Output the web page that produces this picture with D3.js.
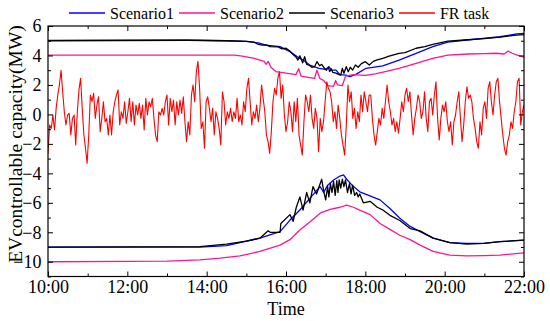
<!DOCTYPE html>
<html>
<head>
<meta charset="utf-8">
<script src="https://cdn.jsdelivr.net/npm/d3@7"></script>
<style>
body { margin: 0; background: #fff; }
</style>
</head>
<body>
<svg id="chart" width="550" height="321"></svg>
<script>
// series names / colours (legend order)
const seriesNames = ["Scenario1", "Scenario2", "Scenario3", "FR task"];
const seriesColors = ["#0000ff", "#ff1493", "#000000", "#ff0000"];

// tick values
const xTickHours = [10, 12, 14, 16, 18, 20, 22];
const xMinorHours = [11, 13, 15, 17, 19, 21];
const yTickValues = [-10, -8, -6, -4, -2, 0, 2, 4, 6];
const yMinorValues = [-11, -9, -7, -5, -3, -1, 1, 3, 5];

// Scenario1 (blue) [hour, MW]
const s1Upper = [[10, 5.02], [13.5, 5.05], [14.5, 5.0], [15.0, 4.95], [15.3, 4.85], [15.5, 4.7], [15.85, 4.6], [16.0, 4.4],
  [16.1, 4.26], [16.35, 3.8], [16.43, 3.69], [16.6, 3.35], [16.83, 3.13], [17.0, 3.05], [17.08, 3.24], [17.15, 3.0],
  [17.26, 3.01], [17.36, 2.7], [17.51, 2.67], [17.61, 2.56], [17.76, 2.72], [18.02, 3.13], [18.44, 3.3], [18.85, 3.69],
  [19.28, 4.14], [19.7, 4.6], [20.08, 4.9], [20.56, 5.05], [20.97, 5.16], [21.39, 5.27], [21.82, 5.46], [22, 5.5]];
const s1Lower = [[10, -9.0], [13.83, -9.0], [14.5, -8.9], [15.34, -8.4], [15.85, -7.95], [16.1, -7.17], [16.35, -6.49],
  [16.6, -5.7], [16.86, -4.9], [16.95, -5.3], [17.05, -4.8], [17.2, -4.45], [17.36, -4.18], [17.45, -4.11], [17.53, -4.4],
  [17.7, -4.9], [17.86, -5.25], [18.37, -5.8], [18.62, -6.38], [18.87, -7.05], [19.13, -7.6], [19.38, -7.95], [19.71, -8.4],
  [20.13, -8.7], [20.56, -8.75], [20.97, -8.75], [21.39, -8.64], [22, -8.53]];

// Scenario2 (pink)
const s2Upper = [[10, 4.02], [14.7, 4.02], [14.9, 3.95], [15.2, 3.8], [15.45, 3.6], [15.5, 3.4], [15.55, 3.6], [15.62, 3.2],
  [15.75, 2.9], [16.0, 2.8], [16.25, 2.7], [16.32, 3.1], [16.38, 2.6], [16.6, 2.5], [16.72, 2.45], [16.78, 3.0], [16.85, 2.45],
  [16.95, 2.3], [17.05, 1.95], [17.2, 1.9], [17.25, 2.3], [17.3, 2.0], [17.42, 1.95], [17.5, 2.6], [17.7, 2.7], [18.0, 2.65],
  [18.25, 2.75], [18.5, 2.9], [18.85, 3.13], [19.28, 3.47], [19.7, 3.8], [20.08, 4.03], [20.6, 4.1], [21.0, 4.13],
  [21.3, 4.15], [21.5, 4.1], [21.6, 4.3], [21.7, 4.15], [21.85, 4.0], [22, 3.88]];
const s2Lower = [[10, -10.0], [12, -9.98], [13.0, -9.95], [13.83, -9.87], [14.34, -9.75], [14.84, -9.6], [15.34, -9.3],
  [15.85, -8.87], [16.1, -8.5], [16.35, -7.85], [16.6, -7.3], [16.86, -6.7], [17.11, -6.45], [17.36, -6.3], [17.53, -6.15],
  [17.7, -6.3], [17.86, -6.5], [18.12, -6.8], [18.37, -7.4], [18.62, -7.8], [18.87, -8.2], [19.13, -8.5], [19.38, -8.87],
  [19.71, -9.3], [20.13, -9.55], [20.56, -9.6], [21.0, -9.58], [21.39, -9.55], [22, -9.4]];

// Scenario3 (black)
const s3Upper = [[10, 5.0], [13.5, 5.02], [14.5, 5.0], [15.0, 4.95], [15.2, 4.9], [15.3, 4.75], [15.4, 4.7], [15.5, 4.72],
  [15.6, 4.6], [15.8, 4.58], [15.9, 4.45], [16.0, 4.49], [16.1, 4.3], [16.15, 4.14], [16.25, 3.9], [16.3, 3.69], [16.35, 3.98],
  [16.42, 3.5], [16.47, 3.92], [16.52, 3.4], [16.58, 3.35], [16.65, 3.2], [16.72, 3.24], [16.78, 3.58], [16.85, 3.3],
  [16.9, 3.4], [16.97, 3.13], [17.02, 3.0], [17.07, 3.2], [17.1, 2.9], [17.14, 3.1], [17.18, 2.85], [17.26, 2.8], [17.32, 2.72],
  [17.38, 2.67], [17.42, 3.13], [17.46, 2.79], [17.52, 3.24], [17.57, 2.9], [17.62, 3.2], [17.68, 3.01], [17.75, 3.35],
  [17.82, 3.2], [17.9, 3.45], [18.0, 3.58], [18.1, 3.35], [18.2, 3.6], [18.3, 3.7], [18.44, 3.81], [18.6, 3.95], [18.85, 4.14],
  [19.0, 4.2], [19.28, 4.49], [19.5, 4.6], [19.7, 4.76], [20.08, 4.98], [20.5, 5.05], [21.0, 5.15], [21.4, 5.25],
  [21.8, 5.38], [22, 5.42]];
const s3Lower = [[10, -9.0], [13.83, -8.97], [14.5, -8.8], [15.0, -8.6], [15.34, -8.4], [15.55, -7.9], [15.6, -8.0],
  [15.85, -8.0], [15.87, -7.4], [16.1, -6.8], [16.18, -7.25], [16.26, -6.3], [16.35, -5.6], [16.43, -6.5], [16.52, -5.3],
  [16.6, -6.0], [16.68, -4.9], [16.77, -5.4], [16.9, -4.4], [16.95, -5.2], [17.0, -5.8], [17.05, -4.9], [17.08, -5.6],
  [17.12, -4.7], [17.16, -5.3], [17.2, -4.55], [17.24, -5.5], [17.28, -4.5], [17.31, -5.3], [17.34, -4.45], [17.38, -5.0],
  [17.42, -4.4], [17.46, -4.9], [17.5, -4.45], [17.55, -5.3], [17.6, -4.7], [17.64, -5.4], [17.68, -4.8], [17.73, -5.5],
  [17.78, -5.3], [17.82, -5.6], [17.86, -5.4], [17.95, -6.0], [18.12, -5.9], [18.3, -6.3], [18.45, -6.5], [18.62, -6.85],
  [18.87, -7.2], [19.13, -7.75], [19.38, -7.9], [19.71, -8.4], [20.13, -8.7], [20.56, -8.8], [21.0, -8.75], [21.39, -8.64],
  [22, -8.53]];

// FR task signal, evenly spaced samples from 10:00 to 22:00
const frTask = [
  -2.65, -0.72, -0.95, -0.04, -1.06, 0.41, 1.32, 2.0, 3.0, 1.54, 0.18, -0.72, -0.04, 0.07, -1.40, -0.27, -0.04, -2.08, 0.18,
  1.66, 2.45, 0.41, -1.40, -2.3, -3.32, -1.40, 1.32, 0.86, 1.43, -0.27, 0.64, 1.2, -1.17, -0.27, 0.86, -0.5, -0.27, -1.40,
  -0.04, -1.40, 0.18, 0.86, 1.32, 1.66, -0.72, 0.18, -0.27, 0.86, -0.61, 0.18, 1.09,
  -0.5, 0.86, -0.72, 0.64, -0.04, 0.75, -0.27, 0.64, -1.06, 1.09, -0.04, 0.86, 0.52, 1.09, -0.27, -1.40, -1.85, 0.18, -0.04,
  0.41, -0.04, 0.86, 1.32, -0.72, 1.09, 0.18, 0.98, -0.72, 0.86, -0.04, 0.98, 0.07, 1.2, -0.5, -1.85, -0.5, -1.40, 1.32, 2.0,
  0.86, 2.9, 3.6, 1.77, -0.95, -0.5, -2.3, 0.86, 1.2, 0.41,
  -0.5, 0.41, -1.40, 0.18, -0.27, -0.95, -2.08, 1.54, 0.86, -0.72, 0.18, -0.27, 0.41, -0.5, 0.18, -0.27, 1.09, -0.5, -0.04,
  -0.72, 0.86, 0.18, 1.77, 2.45, 0.86, -0.72, 0.18, -0.27, 0.64, -0.5, 0.41, 2.0, 1.09, 0.18, -1.40, -1.85, -2.65, -1.17, 0.86,
  1.77, 1.32, 2.45, 2.9, 1.09, 2.0, -0.04, -1.17, -0.5, 0.86,
  0.18, -1.17, 0.86, -0.5, 1.09, -1.40, -2.08, -2.76, -0.5, 1.32, 0.86, 0.18, 1.32, -0.27, -0.95, 0.41, -0.27, -2.53, -0.27,
  -1.17, -0.5, 0.86, 2.22, 1.77, 1.54, 0.86, -0.5, 0.18, -0.95, 0.64, -0.27, -1.40, -2.08, -2.76, -0.72, 2.0, 0.86, 1.54, -0.27,
  0.41, -0.95, 0.18, -0.5, 1.32, 0.18, 1.54, 0.86, 0.18, 1.32,
  1.32, -0.27, -1.40, -2.08, -1.17, -0.27, -0.72, 0.41, -0.27, 0.86, 2.0, 0.86, 0.18, -0.72, -0.27, -1.17, -0.5, -1.28, -0.27,
  0.86, 0.18, 1.32, 1.77, 0.86, 1.54, -0.04, -1.40, -0.27, 0.41, 1.32, 0.86, -0.27, 0.18, 1.54, -0.27, -1.17, 0.86, 1.09,
  -0.04, 1.32, 2.22, -0.27, -1.74, -0.27, 0.64, 0.18, 0.86, -0.5,
  -1.17, -0.5, -2.08, -0.5, -0.04, 0.86, 1.54, -0.27, -1.85, -0.72, 0.86, 1.88, 1.09, 1.32, 0.86, -0.27, -0.95, -1.85, -2.3,
  -0.5, -1.40, 0.41, 0.86, -0.27, 1.77, 2.22, 0.86, -0.04, 1.32, 2.22, 2.45, 0.86, -0.27, -1.40, -2.3, -2.76, -1.85, -1.40,
  -0.5, -0.95, 0.18, 0.86, 2.22, 2.45, -0.72, 0.18, 0.64];

const serif = "'Liberation Serif', 'DejaVu Serif', serif";

const svg = d3.select("#chart")
  .style("font-family", serif);
const plotL = 48, plotR = 524, plotT = 26, plotB = 276.5;

const x = d3.scaleLinear().domain([10, 22]).range([plotL, plotR]);
const y = d3.scaleLinear().domain([-11, 6]).range([plotB, plotT]);

// clip for data lines
svg.append("clipPath").attr("id", "clip")
  .append("rect")
  .attr("x", plotL).attr("y", plotT)
  .attr("width", plotR - plotL).attr("height", plotB - plotT);

const line = d3.line()
  .x(d => x(d[0]))
  .y(d => y(d[1]));

const frPoints = frTask.map((v, i) => [10 + i * 12 / (frTask.length - 1), v]);

const lineData = [
  [s1Upper, 0], [s1Lower, 0],
  [s2Upper, 1], [s2Lower, 1],
  [s3Upper, 2], [s3Lower, 2],
  [frPoints, 3]
];

svg.append("g")
  .attr("clip-path", "url(#clip)")
  .selectAll("path")
  .data(lineData)
  .enter().append("path")
  .attr("d", d => line(d[0]))
  .attr("fill", "none")
  .attr("stroke", d => seriesColors[d[1]])
  .attr("stroke-width", d => d[1] === 3 ? 1.1 : 1.3)
  .attr("stroke-linejoin", "round");

// axes (ticks point inward)
const fmtHour = h => `${h}:00`;

function styleAxis(g) {
  g.attr("font-family", null);
  g.select(".domain").remove();
  g.selectAll("line").attr("stroke", "#000").attr("stroke-width", 1);
  g.selectAll("text")
    .attr("fill", "#000")
    .style("font-family", serif)
    .style("font-size", "18px");
}

svg.append("g")
  .attr("transform", `translate(0,${plotB})`)
  .call(d3.axisBottom(x).tickValues(xTickHours).tickFormat(fmtHour).tickSize(-5).tickPadding(4))
  .call(styleAxis);

svg.append("g")
  .attr("transform", `translate(0,${plotB})`)
  .call(d3.axisBottom(x).tickValues(xMinorHours).tickFormat("").tickSize(-3))
  .call(styleAxis);

svg.append("g")
  .attr("transform", `translate(0,${plotT})`)
  .call(d3.axisTop(x).tickValues(xTickHours).tickFormat("").tickSize(-5))
  .call(styleAxis);

svg.append("g")
  .attr("transform", `translate(0,${plotT})`)
  .call(d3.axisTop(x).tickValues(xMinorHours).tickFormat("").tickSize(-3))
  .call(styleAxis);

svg.append("g")
  .attr("transform", `translate(${plotL},0)`)
  .call(d3.axisLeft(y).tickValues(yTickValues).tickSize(-5).tickPadding(6.5))
  .call(styleAxis);

svg.append("g")
  .attr("transform", `translate(${plotL},0)`)
  .call(d3.axisLeft(y).tickValues(yMinorValues).tickFormat("").tickSize(-3))
  .call(styleAxis);

svg.append("g")
  .attr("transform", `translate(${plotR},0)`)
  .call(d3.axisRight(y).tickValues(yTickValues).tickFormat("").tickSize(-5))
  .call(styleAxis);

svg.append("g")
  .attr("transform", `translate(${plotR},0)`)
  .call(d3.axisRight(y).tickValues(yMinorValues).tickFormat("").tickSize(-3))
  .call(styleAxis);

// frame
svg.append("rect")
  .attr("x", plotL).attr("y", plotT)
  .attr("width", plotR - plotL).attr("height", plotB - plotT)
  .attr("fill", "none")
  .attr("stroke", "#000")
  .attr("stroke-width", 1.2);

// axis titles
svg.append("text")
  .attr("x", (plotL + plotR) / 2)
  .attr("y", 315)
  .attr("text-anchor", "middle")
  .style("font-family", serif)
  .style("font-size", "18px")
  .text("Time");

svg.append("text")
  .attr("transform", "translate(22,144) rotate(-90)")
  .attr("text-anchor", "middle")
  .style("font-family", serif)
  .style("font-size", "19.5px")
  .text("EVcontrollable capacity(MW)");

// legend
const legend = svg.append("g").attr("transform", "translate(0,13)");
let lx = 69;
seriesNames.forEach((name, i) => {
  legend.append("line")
    .attr("x1", lx).attr("x2", lx + 36)
    .attr("y1", 0).attr("y2", 0)
    .attr("stroke", seriesColors[i])
    .attr("stroke-width", 1.3);
  const t = legend.append("text")
    .attr("x", lx + 41)
    .attr("y", 5.5)
    .style("font-family", serif)
    .style("font-size", "16px")
    .text(name);
  lx += 41 + t.node().getComputedTextLength() + 5;
});
</script>
</body>
</html>
